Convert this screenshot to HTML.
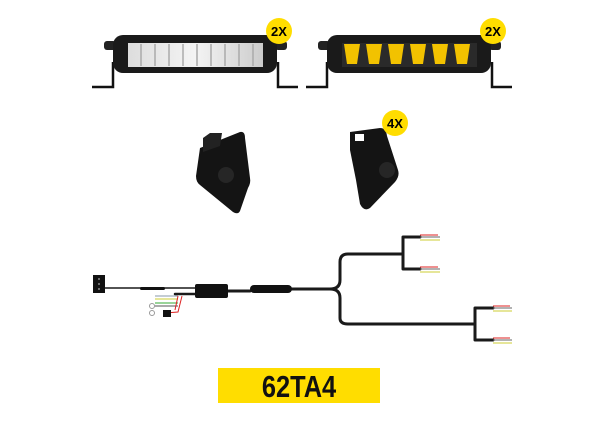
<!DOCTYPE html>
<html><head><style>html,body{margin:0;padding:0;background:#fff}svg{display:block}</style></head>
<body>
<svg width="600" height="440" viewBox="0 0 600 440" xmlns="http://www.w3.org/2000/svg" font-family="Liberation Sans, sans-serif">
<defs>
<linearGradient id="lens" x1="0" x2="1"><stop offset="0" stop-color="#ddd"/><stop offset="0.5" stop-color="#f4f4f4"/><stop offset="1" stop-color="#ccc"/></linearGradient>
</defs>
<!-- bar 1 -->
<g>
<path d="M92 87H113V62M278 62V87H298" stroke="#111" stroke-width="2.5" fill="none"/>
<rect x="104" y="41" width="12" height="9" rx="3" fill="#222"/>
<rect x="275" y="41" width="12" height="9" rx="3" fill="#222"/>
<rect x="113" y="35" width="164" height="38" rx="10" fill="#1a1a1a"/>
<rect x="128" y="43" width="135" height="24" fill="url(#lens)"/>
<g stroke="#aaa" stroke-width="1.5">
<line x1="141" y1="44" x2="141" y2="66"/><line x1="155" y1="44" x2="155" y2="66"/><line x1="169" y1="44" x2="169" y2="66"/><line x1="183" y1="44" x2="183" y2="66"/><line x1="197" y1="44" x2="197" y2="66"/><line x1="211" y1="44" x2="211" y2="66"/><line x1="225" y1="44" x2="225" y2="66"/><line x1="239" y1="44" x2="239" y2="66"/><line x1="253" y1="44" x2="253" y2="66"/>
</g>
<circle cx="279" cy="31" r="13" fill="#FFDD00"/>
<text x="279" y="36" font-size="13" font-weight="bold" text-anchor="middle">2X</text>
</g>
<!-- bar 2 -->
<g>
<path d="M306 87H327V62M492 62V87H512" stroke="#111" stroke-width="2.5" fill="none"/>
<rect x="318" y="41" width="12" height="9" rx="3" fill="#222"/>
<rect x="489" y="41" width="12" height="9" rx="3" fill="#222"/>
<rect x="327" y="35" width="164" height="38" rx="10" fill="#1a1a1a"/>
<rect x="342" y="43" width="135" height="24" fill="#2a2a2a"/>
<g fill="#F2C200">
<path d="M344 44h16l-3 20h-10z"/><path d="M366 44h16l-3 20h-10z"/><path d="M388 44h16l-3 20h-10z"/><path d="M410 44h16l-3 20h-10z"/><path d="M432 44h16l-3 20h-10z"/><path d="M454 44h16l-3 20h-10z"/>
</g>
<circle cx="493" cy="31" r="13" fill="#FFDD00"/>
<text x="493" y="36" font-size="13" font-weight="bold" text-anchor="middle">2X</text>
</g>
<!-- brackets -->
<path d="M200 148L240 132Q245 131 245 138L250 178Q251 183 248 188L240 211Q238 215 233 212L200 185Q196 182 196 176Z" fill="#141414"/>
<path d="M203 138L210 133L222 133L220 146L203 152Z" fill="#222"/>
<circle cx="226" cy="175" r="8" fill="#262626"/>
<path d="M350 132L380 128Q386 128 387 136L398 170Q400 176 395 182L370 208Q364 212 360 204L356 180L350 150Z" fill="#141414"/>
<rect x="355" y="134" width="9" height="7" fill="#fff"/>
<circle cx="387" cy="170" r="8" fill="#262626"/>
<circle cx="395" cy="123" r="13" fill="#FFDD00"/>
<text x="395" y="128" font-size="13" font-weight="bold" text-anchor="middle">4X</text>
<!-- harness -->
<g fill="none" stroke="#1a1a1a" stroke-linecap="round">
<path d="M105 288H195" stroke-width="1.5"/>
<path d="M175 294H195" stroke-width="2.5"/>
<path d="M228 291H250M290 289H330Q340 289 340 280V262Q340 254 348 254H403" stroke-width="3"/>
<path d="M330 289Q340 289 340 298V318Q340 324 348 324H475" stroke-width="3"/>
<path d="M403 237V269M403 237H420M403 269H420" stroke-width="3"/>
<path d="M475 308V340M475 308H493M475 340H493" stroke-width="3"/>
</g>
<rect x="93" y="275" width="12" height="18" fill="#111"/>
<circle cx="99" cy="279" r="1" fill="#888"/><circle cx="99" cy="284" r="1" fill="#888"/><circle cx="99" cy="289" r="1" fill="#888"/>
<rect x="140" y="287" width="25" height="3" rx="1.5" fill="#111"/>
<rect x="195" y="284" width="33" height="14" rx="2" fill="#111"/>
<rect x="250" y="285" width="42" height="8" rx="4" fill="#111"/>
<g stroke-width="1">
<path d="M155 296H178" stroke="#89a"/><path d="M155 299H178" stroke="#cc3"/><path d="M155 303H178" stroke="#3a3"/><path d="M155 306H178" stroke="#555"/>
<path d="M178 296L175 310M182 296L178 312L165 313" stroke="#d22" fill="none"/>
</g>
<circle cx="152" cy="306" r="2.5" fill="none" stroke="#999"/>
<circle cx="152" cy="313" r="2.5" fill="none" stroke="#999"/>
<rect x="163" y="310" width="8" height="7" fill="#111"/>
<g stroke-width="1">
<path d="M420 235H438" stroke="#d22"/><path d="M420 237H440" stroke="#666"/><path d="M420 240H440" stroke="#cc3"/>
<path d="M420 267H438" stroke="#d22"/><path d="M420 269H440" stroke="#666"/><path d="M420 272H440" stroke="#cc3"/>
<path d="M493 306H510" stroke="#d22"/><path d="M493 308H512" stroke="#666"/><path d="M493 311H512" stroke="#cc3"/>
<path d="M493 338H510" stroke="#d22"/><path d="M493 340H512" stroke="#666"/><path d="M493 343H512" stroke="#cc3"/>
</g>
<!-- label -->
<rect x="218" y="368" width="162" height="35" fill="#FFDD00"/>
<text x="0" y="0" font-size="31" font-weight="bold" text-anchor="middle" fill="#111" transform="translate(299 397) scale(0.82 1)">62TA4</text>
</svg>
</body></html>
